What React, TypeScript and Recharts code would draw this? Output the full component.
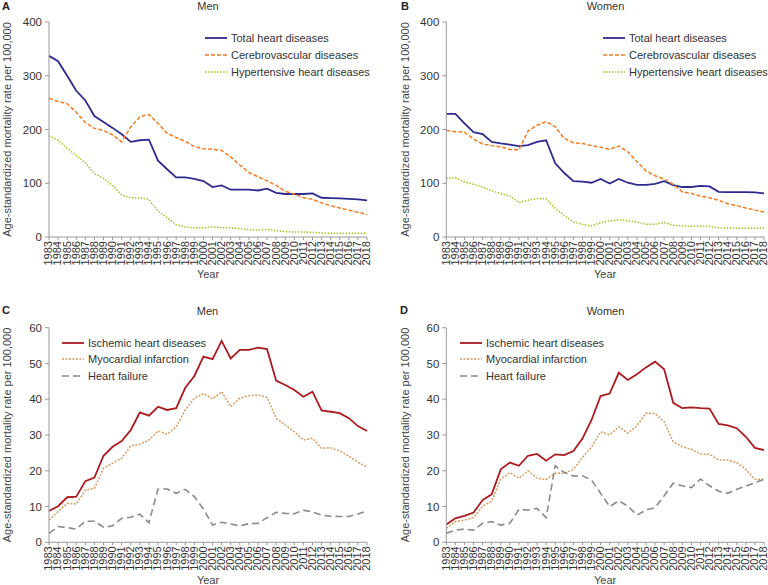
import { LineChart, Line, XAxis, YAxis, Legend } from "recharts";

const FONT = "'Liberation Sans', Arial, sans-serif";
const Y_TITLE = "Age-standardized mortality rate per 100,000";

const YEARS = [
  1983, 1984, 1985, 1986, 1987, 1988, 1989, 1990, 1991, 1992, 1993, 1994,
  1995, 1996, 1997, 1998, 1999, 2000, 2001, 2002, 2003, 2004, 2005, 2006,
  2007, 2008, 2009, 2010, 2011, 2012, 2013, 2014, 2015, 2016, 2017, 2018,
];

// A / B: total heart, cerebrovascular, hypertensive
const menTotal = [337, 327, 300, 272, 254, 225, 214, 203, 191, 177, 180, 181, 142, 126, 111, 111, 108, 104, 93, 96, 88, 88, 88, 86.5, 90, 82, 80, 80, 80, 81, 73, 72.5, 72, 71, 70, 68];
const menCerebro = [258, 252, 248, 232, 213, 202, 198, 190, 177, 205, 224, 228, 211, 193, 185, 178, 168, 164, 163, 161, 149, 134, 120, 112, 104.5, 96, 85, 80, 73, 70, 63.5, 58, 54, 50, 46, 42];
const menHyper = [188, 180, 165, 152, 138, 118, 109, 96, 78, 73, 73, 70, 48, 36, 23, 18.7, 17, 17, 19, 17.4, 17, 15.5, 13.7, 13, 14, 12, 10, 9.3, 9.3, 8.7, 7.5, 6.8, 6.8, 6.8, 6.8, 6.8];
const womenTotal = [229, 229, 211.5, 195, 191.6, 177, 174, 172, 169, 171, 177, 180, 137, 119, 104, 103, 101, 108, 99.5, 108, 101, 97, 97, 99, 104, 96.4, 93, 93, 95, 94, 84, 83.5, 83.5, 83.5, 83, 81];
const womenCerebro = [198, 196, 195, 182, 173, 170, 168, 163, 162, 197, 208, 214.6, 205, 183.5, 175.4, 174, 170, 167, 163, 169, 158.6, 140, 123, 114, 107.6, 98, 84, 81, 76, 73, 68.4, 62, 58.5, 54, 50, 46.7];
const womenHyper = [109, 110, 102.6, 98, 93, 86, 81, 76, 64, 68.4, 71.5, 71, 53, 40, 28, 23.6, 20.5, 26.7, 30, 32, 30, 28, 23.6, 23.6, 27, 21.8, 20.5, 20, 20, 20, 16.8, 16.8, 16.2, 16.2, 16.2, 16.2];

// C / D: ischemic, myocardial infarction, heart failure
const menIschemic = [8.75, 10.1, 12.6, 12.75, 17.1, 18.1, 24.2, 26.7, 28.3, 31.4, 36.3, 35.4, 37.9, 37, 37.5, 43.2, 46.5, 51.9, 51.2, 56.3, 51.4, 53.8, 53.8, 54.4, 54, 45.2, 44, 42.6, 40.7, 42.1, 36.9, 36.5, 36.1, 34.7, 32.5, 31.1];
const menMI = [6.2, 8.6, 10.9, 10.7, 14.6, 15.1, 20.7, 22.1, 23.5, 27, 27.4, 28.6, 31.1, 30.2, 32.3, 37, 40.3, 41.6, 40.1, 42.1, 37.9, 40.3, 41, 41.2, 40.5, 34.7, 32.8, 30.9, 28.6, 29.1, 26.3, 26.4, 25.6, 24.1, 22.4, 21];
const menHF = [2.5, 4.4, 4.1, 3.7, 5.9, 5.9, 4.2, 4.6, 6.7, 7, 7.9, 5.5, 14.9, 14.9, 13.7, 14.8, 12.8, 9.3, 4.8, 5.6, 5.1, 4.6, 5.2, 5.3, 6.9, 8.4, 8.1, 8, 9, 8.5, 7.6, 7.3, 7.2, 7.2, 7.9, 8.75];
const womenIschemic = [5, 6.7, 7.4, 8.3, 11.8, 13.4, 20.4, 22.3, 21.4, 24.2, 24.7, 22.8, 24.6, 24.4, 25.5, 29, 34.2, 40.9, 41.6, 47.4, 45.4, 47, 48.9, 50.5, 48.4, 39, 37.5, 37.7, 37.5, 37.4, 33.1, 32.7, 31.9, 29.5, 26.4, 25.8];
const womenMI = [3.9, 5.8, 6.2, 6.9, 10.1, 11.5, 17.6, 19.5, 17.9, 20, 17.9, 17.6, 19.3, 19.3, 20.4, 23.7, 26.7, 30.9, 30, 32.3, 30.5, 32.6, 36.1, 36, 33.7, 28.1, 26.7, 26, 24.7, 24.6, 23, 23, 22.3, 20.4, 17.6, 17.6];
const womenHF = [2.5, 3.4, 3.7, 3.4, 5.3, 5.8, 4.8, 5.3, 9.2, 9, 9.5, 6.9, 21.4, 19.5, 18.5, 18.6, 17.4, 13.7, 10, 11.6, 10.1, 7.6, 9, 9.7, 13, 16.5, 15.8, 15.3, 17.7, 15.8, 14.3, 13.7, 14.8, 15.7, 16.7, 17.6];

const TOP_TICKS = [0, 100, 200, 300, 400];
const BOTTOM_TICKS = [0, 10, 20, 30, 40, 50, 60];

type Series = { key: string; label: string; color: string; dash?: string; width: number };

const TOP_SERIES: Series[] = [
  { key: "total", label: "Total heart diseases", color: "#2e2b8f", width: 1.8 },
  { key: "cerebro", label: "Cerebrovascular diseases", color: "#f47b20", dash: "4 2", width: 1.5 },
  { key: "hyper", label: "Hypertensive heart diseases", color: "#a3c423", dash: "1.5 1.5", width: 1.5 },
];

const BOTTOM_SERIES: Series[] = [
  { key: "ischemic", label: "Ischemic heart diseases", color: "#ad1a1f", width: 1.8 },
  { key: "mi", label: "Myocardial infarction", color: "#d99a5e", dash: "2 1.5", width: 1.5 },
  { key: "hf", label: "Heart failure", color: "#8a8a8a", dash: "7 4", width: 1.6 },
];

const menTop = YEARS.map((year, i) => ({ year, total: menTotal[i], cerebro: menCerebro[i], hyper: menHyper[i] }));
const womenTop = YEARS.map((year, i) => ({ year, total: womenTotal[i], cerebro: womenCerebro[i], hyper: womenHyper[i] }));
const menBottom = YEARS.map((year, i) => ({ year, ischemic: menIschemic[i], mi: menMI[i], hf: menHF[i] }));
const womenBottom = YEARS.map((year, i) => ({ year, ischemic: womenIschemic[i], mi: womenMI[i], hf: womenHF[i] }));

function YearTick({ x, y, payload }: any) {
  const tx = x - 0.6;
  return (
    <text
      x={tx}
      y={y}
      transform={`rotate(-90 ${tx} ${y})`}
      textAnchor="end"
      dominantBaseline="central"
      fontSize={11}
      fontFamily={FONT}
      fill="#333"
    >
      {payload.value}
    </text>
  );
}

function YTitle({ viewBox, cx }: any) {
  const x = viewBox.x + cx;
  const y = viewBox.y + viewBox.height / 2;
  return (
    <text
      x={x}
      y={y}
      transform={`rotate(-90 ${x} ${y})`}
      textAnchor="middle"
      dominantBaseline="central"
      fontSize={11}
      fontFamily={FONT}
      fill="#444"
    >
      {Y_TITLE}
    </text>
  );
}

// keep the legend in series order, not the library's sorted order
function LegendBox({ payload, series }: any) {
  return (
    <div style={{ fontFamily: FONT, fontSize: 11, color: "#333" }}>
      {series.map((s: Series) => {
        const entry = (payload || []).find((p: any) => p.dataKey === s.key);
        return (
          <div key={s.key} style={{ display: "flex", alignItems: "center", height: 16.7 }}>
            <svg width={22} height={6} style={{ marginRight: 4 }}>
              <line x1={0} y1={3} x2={22} y2={3} stroke={s.color} strokeWidth={s.width} strokeDasharray={s.dash} />
            </svg>
            <span style={{ whiteSpace: "nowrap" }}>{entry ? entry.value : s.label}</span>
          </div>
        );
      })}
    </div>
  );
}

function Panel({ left, top, height, margin, yWidth, rows, series, yMax, yTicks, legendAt, titleX, xHeight, yearOffset }: any) {
  return (
    <div style={{ position: "absolute", left, top }}>
      <LineChart width={384} height={height} data={rows} margin={margin}>
        <XAxis
          dataKey="year"
          type="number"
          domain={[1983, 2018]}
          ticks={YEARS}
          interval={0}
          tick={<YearTick />}
          tickSize={3}
          tickMargin={1}
          stroke="#999"
          height={xHeight}
          label={{ value: "Year", position: "insideBottom", offset: yearOffset, fill: "#444", fontSize: 11, fontFamily: FONT }}
        />
        <YAxis
          type="number"
          domain={[0, yMax]}
          ticks={yTicks}
          interval={0}
          width={yWidth}
          tickSize={4}
          tickMargin={3}
          stroke="#999"
          tick={{ fontSize: 11.5, fill: "#333", fontFamily: FONT }}
          label={<YTitle cx={titleX} />}
        />
        <Legend
          layout="vertical"
          align="center"
          verticalAlign="middle"
          wrapperStyle={{ top: legendAt.top, left: legendAt.left, width: "auto" }}
          content={<LegendBox series={series} />}
        />
        {series.map((s: Series) => (
          <Line
            key={s.key}
            type="linear"
            dataKey={s.key}
            name={s.label}
            stroke={s.color}
            strokeWidth={s.width}
            strokeDasharray={s.dash}
            dot={false}
            activeDot={false}
            isAnimationActive={false}
          />
        ))}
      </LineChart>
    </div>
  );
}

export default function App() {
  const topMarginA = { top: 22, right: 17, left: 0, bottom: 5 };
  const topMarginB = { top: 22, right: 4, left: 0, bottom: 5 };
  const botMarginC = { top: 37.7, right: 17, left: 0, bottom: 0 };
  const botMarginD = { top: 37.7, right: 4, left: 0, bottom: 0 };
  return (
    <div style={{ position: "absolute", left: 0, top: 0, width: 768, height: 585, background: "#fff", fontFamily: FONT }}>
      <Panel left={0} top={0} height={290} margin={topMarginA} yWidth={49} rows={menTop} series={TOP_SERIES}
        yMax={400} yTicks={TOP_TICKS} legendAt={{ top: 30, left: 205 }} titleX={7} xHeight={48} yearOffset={7} />
      <Panel left={384} top={0} height={290} margin={topMarginB} yWidth={62.3} rows={womenTop} series={TOP_SERIES}
        yMax={400} yTicks={TOP_TICKS} legendAt={{ top: 30, left: 219 }} titleX={21} xHeight={48} yearOffset={7} />
      <Panel left={0} top={290} height={295} margin={botMarginC} yWidth={49} rows={menBottom} series={BOTTOM_SERIES}
        yMax={60} yTicks={BOTTOM_TICKS} legendAt={{ top: 44.3, left: 62 }} titleX={7} xHeight={42.7} yearOffset={1.5} />
      <Panel left={384} top={290} height={295} margin={botMarginD} yWidth={62.3} rows={womenBottom} series={BOTTOM_SERIES}
        yMax={60} yTicks={BOTTOM_TICKS} legendAt={{ top: 44.3, left: 76 }} titleX={21} xHeight={42.7} yearOffset={1.5} />
      <svg width={768} height={585} style={{ position: "absolute", left: 0, top: 0, pointerEvents: "none" }}>
        <g fontFamily={FONT} fill="#222">
          <text x={2} y={10} fontSize={11} fontWeight="bold">A</text>
          <text x={208} y={10} fontSize={11} textAnchor="middle" fill="#333">Men</text>
          <text x={401} y={10} fontSize={11} fontWeight="bold">B</text>
          <text x={605.5} y={10} fontSize={11} textAnchor="middle" fill="#333">Women</text>
          <text x={2} y={314.3} fontSize={11} fontWeight="bold">C</text>
          <text x={207.5} y={314.5} fontSize={11} textAnchor="middle" fill="#333">Men</text>
          <text x={400} y={314.3} fontSize={11} fontWeight="bold">D</text>
          <text x={605.5} y={314.5} fontSize={11} textAnchor="middle" fill="#333">Women</text>
        </g>
      </svg>
    </div>
  );
}
